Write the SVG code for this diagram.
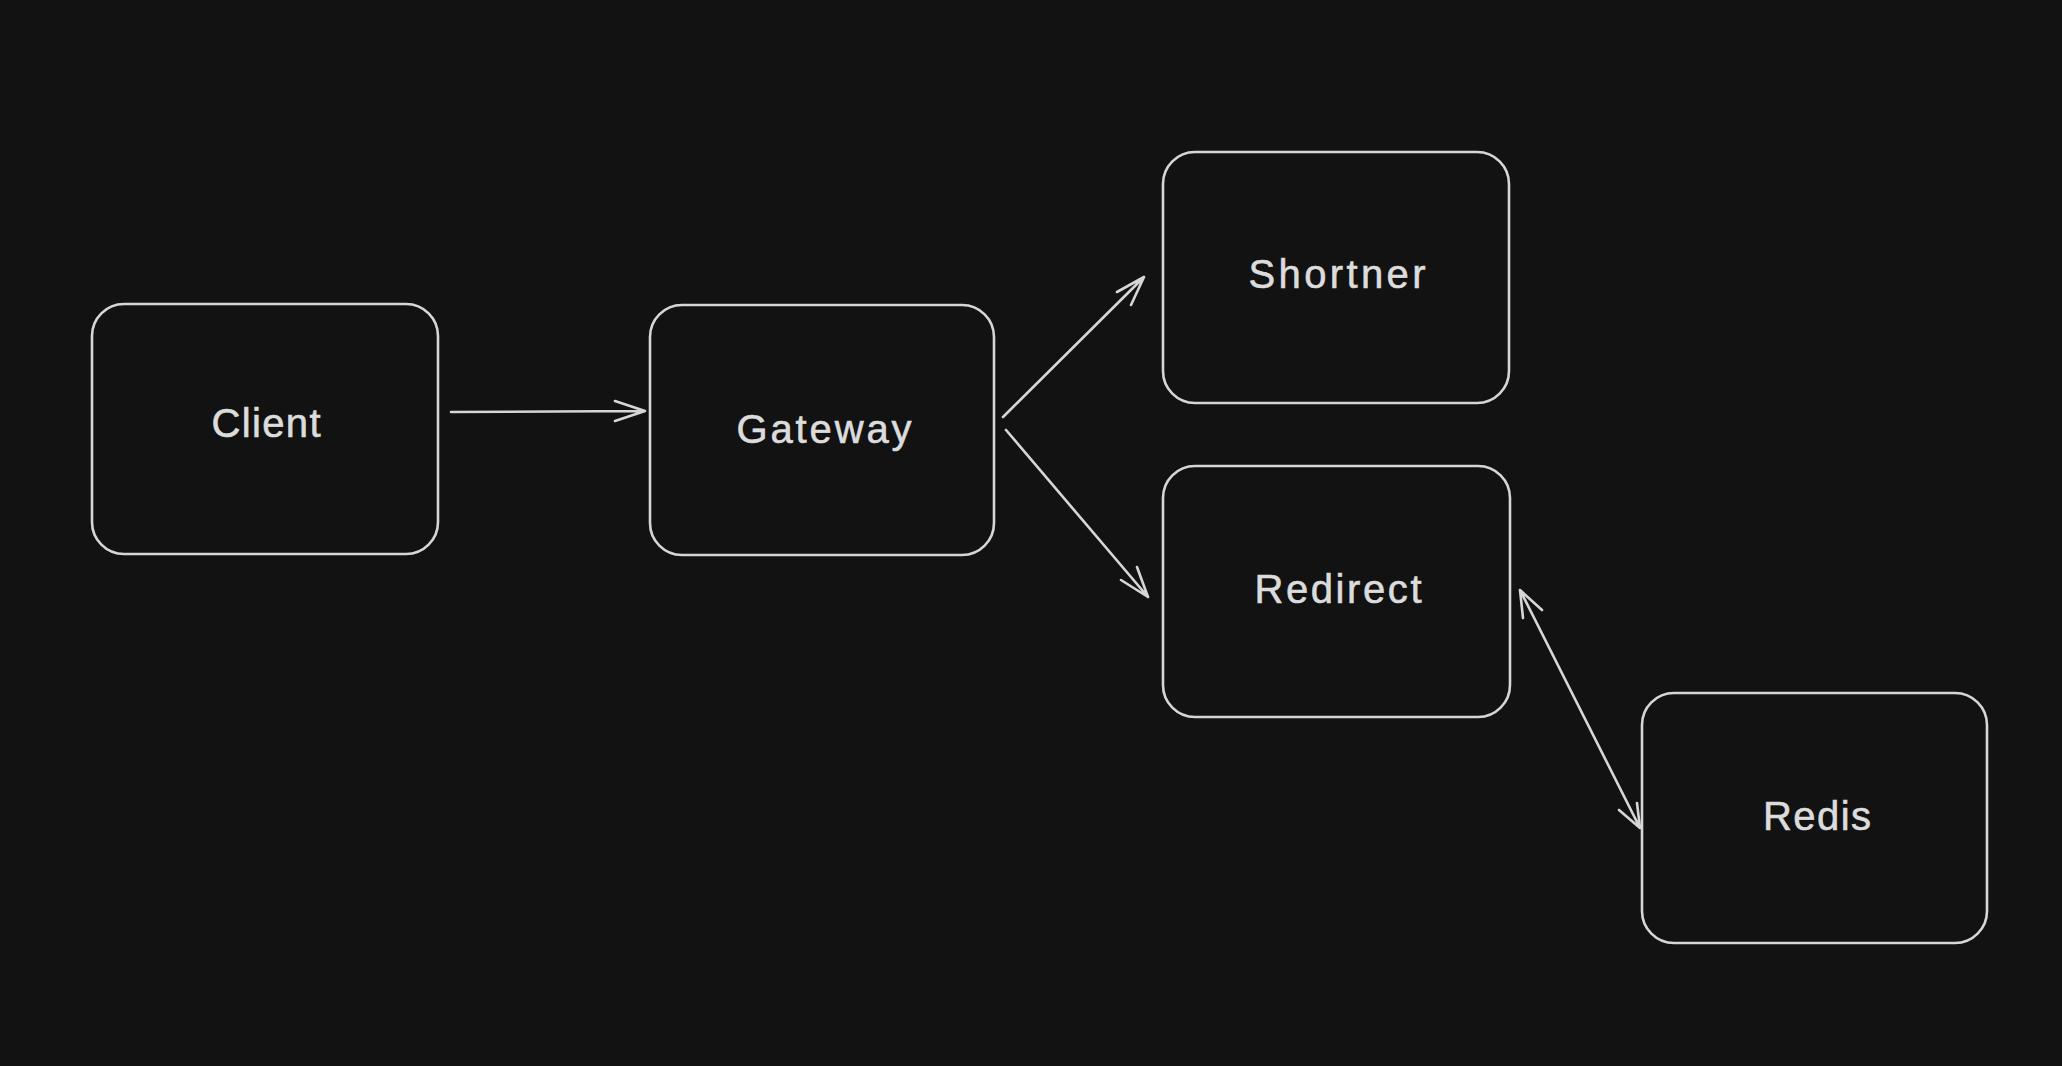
<svg xmlns="http://www.w3.org/2000/svg" width="2062" height="1066" viewBox="0 0 2062 1066">
<style>
.box{fill:#121212;stroke:#d6d6d6;stroke-width:2.6}
.lbl{fill:#dcdcdc;stroke:#dcdcdc;stroke-width:0.6;font-family:"Liberation Sans",Arial,sans-serif;font-size:40px;text-anchor:middle}
.edge{fill:none;stroke:#d6d6d6;stroke-width:2.6;stroke-linecap:round;stroke-linejoin:round}
</style>
<rect width="2062" height="1066" fill="#121212"/>
<g id="client"><rect class="box" x="92" y="304" width="346" height="250" rx="32"/><text class="lbl" x="266" y="437" textLength="109" lengthAdjust="spacing">Client</text></g>
<g id="gateway"><rect class="box" x="650" y="305" width="344" height="250" rx="32"/><text class="lbl" x="824" y="443" textLength="175" lengthAdjust="spacing">Gateway</text></g>
<g id="shortner"><rect class="box" x="1163" y="152" width="346" height="251" rx="32"/><text class="lbl" x="1337" y="288" textLength="177" lengthAdjust="spacing">Shortner</text></g>
<g id="redirect"><rect class="box" x="1163" y="466" width="347" height="251" rx="32"/><text class="lbl" x="1338" y="603" textLength="167" lengthAdjust="spacing">Redirect</text></g>
<g id="redis"><rect class="box" x="1642" y="693" width="345" height="250" rx="32"/><text class="lbl" x="1817" y="830" textLength="108" lengthAdjust="spacing">Redis</text></g>
<g id="connectors">
<path class="edge" d="M451 412 L645 411 M615 401 L645 411 L615 421"/>
<path class="edge" d="M1003 417 L1144 277 M1117 292 L1144 277 L1131 305"/>
<path class="edge" d="M1006 430 L1148 597 M1121 580 L1148 597 L1137 567"/>
<path class="edge" d="M1520 590 L1640 828 M1523 618 L1520 590 L1542 610 M1619 810 L1640 828 L1637 803"/>
</g>
</svg>
